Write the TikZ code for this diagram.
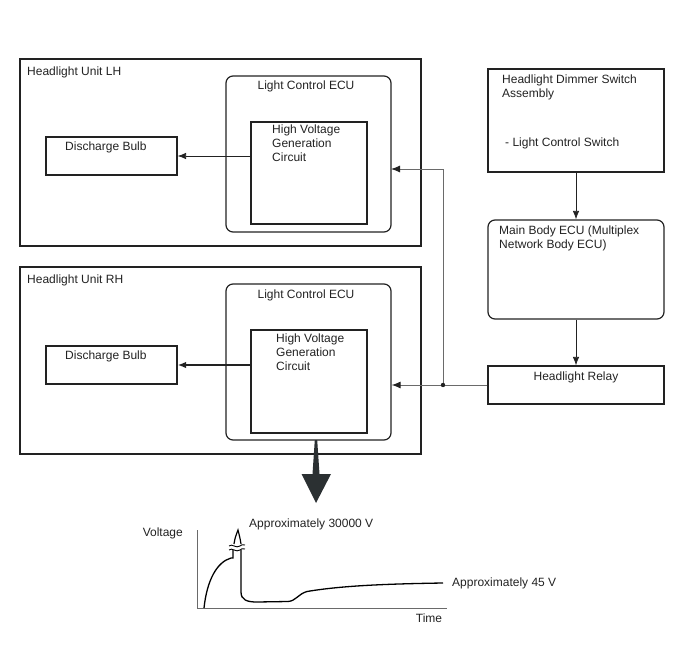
\documentclass[tikz,border=0pt]{standalone}
\usepackage{fontspec}
\setmainfont{Liberation Sans}
\usetikzlibrary{arrows.meta}
\definecolor{ink}{HTML}{222222}
\definecolor{wire}{HTML}{6A6A6A}
\definecolor{bigarrow}{HTML}{2B3032}
\tikzset{
  box/.style={draw=ink, line width=1.2pt, rectangle, inner sep=0pt},
  rbox/.style={box, rounded corners=7pt},
  txt/.style={font=\fontsize{12}{14}\selectfont, inner sep=0pt, text=ink},
  ltxt/.style={txt, anchor=west, align=left},
  arr/.style={draw=ink, line width=0.8pt, -{Latex[length=8.5pt,width=6.5pt]}},
  garr/.style={draw=wire, line width=1pt, -{Latex[length=9pt,width=7pt,color=ink]}},
}
\begin{document}
\begin{tikzpicture}[x=1pt,y=-1pt]
\useasboundingbox (0,0) rectangle (688,658);
% headlight units
\node[box, minimum width=401, minimum height=187] (lunit) at (220.5,152.5) {};
\node[box, minimum width=401, minimum height=187] (runit) at (220.5,360.5) {};
\node[ltxt] (lunitt) at (27,72) {Headlight Unit LH};
\node[ltxt] (runitt) at (27,280) {Headlight Unit RH};
% ECUs
\node[rbox, minimum width=165, minimum height=156] (lecu) at (308.5,154) {};
\node[rbox, minimum width=165, minimum height=156] (recu) at (308.5,362) {};
\node[txt] (lecut) at (306,86) {Light Control ECU};
\node[txt] (recut) at (306,295) {Light Control ECU};
% HV circuits
\node[box, minimum width=116, minimum height=102] (lhv) at (309,173) {};
\node[box, minimum width=116, minimum height=103] (rhv) at (309,381.5) {};
\node[ltxt, anchor=north west] (lhvt) at (272,124.5) {High Voltage\\Generation\\Circuit};
\node[ltxt, anchor=north west] (rhvt) at (276,333.5) {High Voltage\\Generation\\Circuit};
% bulbs
\node[box, minimum width=131, minimum height=38] (lbulb) at (111.5,156) {};
\node[box, minimum width=131, minimum height=38] (rbulb) at (111.5,365) {};
\node[ltxt] (lbulbt) at (65,147) {Discharge Bulb};
\node[ltxt] (rbulbt) at (65,356) {Discharge Bulb};
% right column
\node[box, minimum width=176, minimum height=103] (dimmer) at (576,120.5) {};
\node[ltxt, anchor=north west] (dimmert) at (502,75) {Headlight Dimmer Switch\\Assembly};
\node[ltxt] (dimmers) at (505,143) {- Light Control Switch};
\node[rbox, minimum width=176, minimum height=99] (main) at (576,269.5) {};
\node[ltxt, anchor=north west] (maint) at (499,226) {Main Body ECU (Multiplex\\Network Body ECU)};
\node[box, minimum width=176, minimum height=38] (relay) at (576,385) {};
\node[txt] (relayt) at (576,377) {Headlight Relay};
% connectors
\draw[arr] (lhv.west |- lbulb.east) -- (lbulb.east);
\draw[arr, line width=1.5pt] (rhv.west |- rbulb.east) -- (rbulb.east);
\draw[arr] (dimmer.south) -- (main.north);
\draw[arr] (main.south) -- (relay.north);
\coordinate (junc) at (443,385);
\coordinate (lin) at (391,169);
\draw[garr] (relay.west) -- (recu.east |- relay.west);
\draw[garr] (junc) |- (lin);
\fill[ink] (junc) circle (2.2);
% big arrow
\fill[bigarrow] (314.8,440) -- (317.2,440) -- (319.5,474) -- (331,474) -- (316,503) -- (301.5,474) -- (312.5,474) -- cycle;
% graph
\draw[wire, line width=1pt] (197,530) -- (197,608) -- (447,608);
\node[txt, anchor=east] (vlab) at (183,533) {Voltage};
\node[txt] (tlab) at (429,618) {Time};
\node[ltxt] (hilab) at (249,524) {Approximately 30000 V};
\node[ltxt] (lolab) at (452,583) {Approximately 45 V};
\draw[black, line width=1.3pt] (204,608) .. controls (207,580) and (217,562) .. (231,558) -- (233,558) -- (233,550);
\draw[black, line width=1.2pt] (234,544) .. controls (235,538) .. (238,530) .. controls (240,538) .. (241,544);
\draw[black, line width=1.3pt] (241,550) -- (241,592) .. controls (241,600) and (247,602) .. (257,602) -- (288,601.5) .. controls (296,601) and (298,594) .. (307,591.5) .. controls (340,586) and (380,584) .. (443,583);
\draw[black, line width=0.9pt] (229,546) .. controls (232,543) and (236,549) .. (240,546) .. controls (242,544.5) .. (245,545);
\draw[black, line width=0.9pt] (229,550) .. controls (232,547) and (236,553) .. (240,550) .. controls (242,548.5) .. (245,549);
\end{tikzpicture}
\end{document}
